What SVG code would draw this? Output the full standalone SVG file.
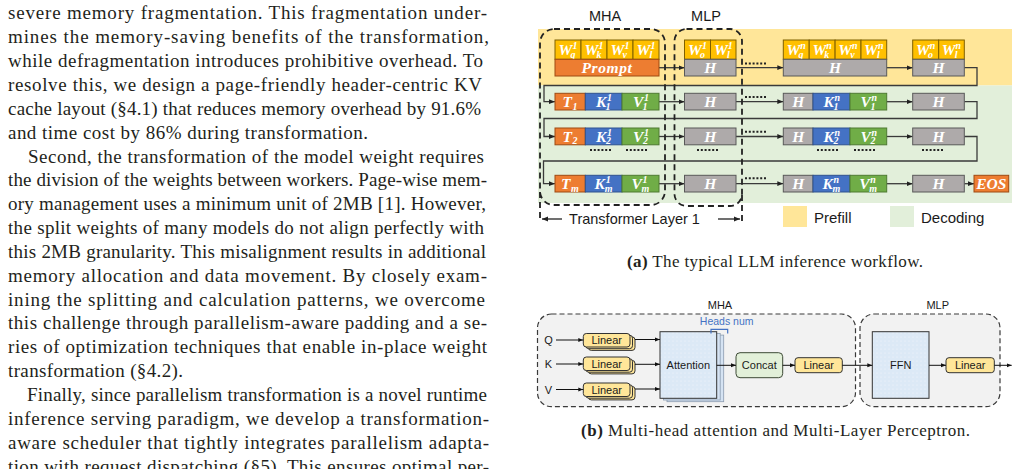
<svg xmlns="http://www.w3.org/2000/svg" width="1022" height="469" viewBox="0 0 1022 469">
<style>
.body{font-family:"Liberation Serif","Times New Roman",serif;font-size:19px;fill:#231f20}
.cap{font-family:"Liberation Serif","Times New Roman",serif;font-size:17px;fill:#231f20}
.sans{font-family:"Liberation Sans",Arial,sans-serif;fill:#1a1a1a}
.s14{font-size:14.5px}
.s11{font-size:11px}
.m{font-family:"Liberation Serif","Times New Roman",serif;font-weight:bold;font-style:italic;fill:#fff;font-size:15.5px}
.sc{font-size:10px}
.W{fill:#FFC000;stroke:#7F6000;stroke-width:1}
.O{fill:#ED7D31;stroke:#9E4A13;stroke-width:1}
.G{fill:#AEAAAA;stroke:#595959;stroke-width:1}
.B{fill:#4472C4;stroke:#2F528F;stroke-width:1}
.V{fill:#70AD47;stroke:#4E7A31;stroke-width:1}
.ln{fill:none;stroke:#3a3a3a;stroke-width:1.3}
.lb{fill:none;stroke:#111;stroke-width:1}
.dash{fill:none;stroke:#222;stroke-width:1.8;stroke-dasharray:6 4}
.dashb{fill:#F2F2F2;stroke:#3a3a3a;stroke-width:1.2;stroke-dasharray:5 3}
.dots{fill:none;stroke:#222;stroke-width:2;stroke-dasharray:2 1.8}
.lin{fill:#FFE699;stroke:#333;stroke-width:1}
.att{fill:url(#dp);stroke:#333;stroke-width:1}
.attb{fill:#D5E3F3;stroke:#8a9bb0;stroke-width:0.8}
</style>
<defs>
<marker id="ah" viewBox="0 0 6 6" refX="6" refY="3" markerWidth="6" markerHeight="6" markerUnits="userSpaceOnUse" orient="auto"><path d="M0,0.6 L6,3 L0,5.4 z" fill="#222"/></marker>
<marker id="as" viewBox="0 0 6 6" refX="6" refY="3" markerWidth="5" markerHeight="5" markerUnits="userSpaceOnUse" orient="auto"><path d="M0,0.6 L6,3 L0,5.4 z" fill="#111"/></marker>
<pattern id="dp" width="4" height="4" patternUnits="userSpaceOnUse"><rect width="4" height="4" fill="#DCE9F6"/><circle cx="1" cy="1" r="0.55" fill="#F4F8FC"/></pattern>
</defs>

<g id="body-text" class="body">
<text x="8" y="19.4" textLength="479" lengthAdjust="spacing">severe memory fragmentation. This fragmentation under-</text>
<text x="8" y="43.2" textLength="481" lengthAdjust="spacing">mines the memory-saving benefits of the transformation,</text>
<text x="8" y="67.1" textLength="475" lengthAdjust="spacing">while defragmentation introduces prohibitive overhead. To</text>
<text x="8" y="90.9" textLength="474" lengthAdjust="spacing">resolve this, we design a page-friendly header-centric KV</text>
<text x="8" y="114.8" textLength="473" lengthAdjust="spacing">cache layout (§4.1) that reduces memory overhead by 91.6%</text>
<text x="8" y="138.6" textLength="360" lengthAdjust="spacing">and time cost by 86% during transformation.</text>
<text x="28" y="162.5" textLength="456" lengthAdjust="spacing">Second, the transformation of the model weight requires</text>
<text x="8" y="186.3" textLength="479" lengthAdjust="spacing">the division of the weights between workers. Page-wise mem-</text>
<text x="8" y="210.2" textLength="478" lengthAdjust="spacing">ory management uses a minimum unit of 2MB [1]. However,</text>
<text x="8" y="234" textLength="476" lengthAdjust="spacing">the split weights of many models do not align perfectly with</text>
<text x="8" y="257.9" textLength="478" lengthAdjust="spacing">this 2MB granularity. This misalignment results in additional</text>
<text x="8" y="281.7" textLength="479" lengthAdjust="spacing">memory allocation and data movement. By closely exam-</text>
<text x="8" y="305.6" textLength="477" lengthAdjust="spacing">ining the splitting and calculation patterns, we overcome</text>
<text x="8" y="329.4" textLength="479" lengthAdjust="spacing">this challenge through parallelism-aware padding and a se-</text>
<text x="8" y="353.3" textLength="479" lengthAdjust="spacing">ries of optimization techniques that enable in-place weight</text>
<text x="8" y="377.1" textLength="175" lengthAdjust="spacing">transformation (§4.2).</text>
<text x="27" y="401" textLength="460" lengthAdjust="spacing">Finally, since parallelism transformation is a novel runtime</text>
<text x="8" y="424.8" textLength="481" lengthAdjust="spacing">inference serving paradigm, we develop a transformation-</text>
<text x="8" y="448.7" textLength="481" lengthAdjust="spacing">aware scheduler that tightly integrates parallelism adapta-</text>
<text x="8" y="472.5" textLength="481" lengthAdjust="spacing">tion with request dispatching (§5). This ensures optimal per-</text>
</g>

<g id="bands">
<rect x="538" y="29" width="474" height="56.5" fill="#FFE699"/>
<rect x="538" y="85.5" width="474" height="117.5" fill="#E2EFDA"/>
</g>

<g id="connectors-top" class="ln">
<path d="M659,67.7 H684.5" marker-end="url(#ah)"/>
<path d="M736,67.7 H783.3" marker-end="url(#ah)"/>
<path d="M886.7,67.7 H912.7" marker-end="url(#ah)"/>
<path d="M964.3,67.7 H977 V85.5 H544 V101.7 H555" marker-end="url(#ah)"/>
<path d="M659,101.7 H684.5" marker-end="url(#ah)"/>
<path d="M736,101.7 H783.3" marker-end="url(#ah)"/>
<path d="M886.7,101.7 H912.7" marker-end="url(#ah)"/>
<path d="M964.3,101.7 H977 V118.5 H544 V136.5 H555" marker-end="url(#ah)"/>
<path d="M659,136.5 H684.5" marker-end="url(#ah)"/>
<path d="M736,136.5 H783.3" marker-end="url(#ah)"/>
<path d="M886.7,136.5 H912.7" marker-end="url(#ah)"/>
<path d="M964.3,136.5 H977 V161 H543.5 V183.7 H555" marker-end="url(#ah)"/>
<path d="M659,183.7 H684.5" marker-end="url(#ah)"/>
<path d="M736,183.7 H783.3" marker-end="url(#ah)"/>
<path d="M886.7,183.7 H912.7" marker-end="url(#ah)"/>
<path d="M964.3,183.7 H974" marker-end="url(#ah)"/>
</g>

<g id="ellipses" class="dots">
<path d="M745,63.5 h21"/>
<path d="M745,97 h21"/>
<path d="M745,131.7 h21"/>
<path d="M745,178.2 h21"/>
<path d="M590,150 h21"/>
<path d="M626,150 h21"/>
<path d="M697,150 h21"/>
<path d="M817,150 h21"/>
<path d="M854,150 h21"/>
<path d="M922,150 h21"/>
</g>

<g id="l1-prefill">
<rect class="W" x="555" y="40" width="26" height="19.3"/>
<rect class="W" x="581" y="40" width="26" height="19.3"/>
<rect class="W" x="607" y="40" width="26" height="19.3"/>
<rect class="W" x="633" y="40" width="26" height="19.3"/>
<text class="m" x="558.6" y="55">W<tspan class="sc" dy="-6">1</tspan><tspan class="sc" dx="-6.8" dy="8.6">q</tspan></text>
<text class="m" x="584.6" y="55">W<tspan class="sc" dy="-6">1</tspan><tspan class="sc" dx="-6.8" dy="8.6">k</tspan></text>
<text class="m" x="610.6" y="55">W<tspan class="sc" dy="-6">1</tspan><tspan class="sc" dx="-6.8" dy="8.6">v</tspan></text>
<text class="m" x="636.6" y="55">W<tspan class="sc" dy="-6">1</tspan><tspan class="sc" dx="-5.8" dy="8.6">l</tspan></text>
<rect class="O" x="555" y="59.3" width="104" height="16.7"/>
<text class="m" x="607" y="73" text-anchor="middle" letter-spacing="0.6">Prompt</text>
</g>

<g id="l1-row1">
<rect class="O" x="555" y="93.3" width="30.3" height="16.7"/>
<rect class="B" x="585.3" y="93.3" width="36.7" height="16.7"/>
<rect class="V" x="622" y="93.3" width="37" height="16.7"/>
<text class="m" x="562.5" y="107">T<tspan class="sc" dx="0.5" dy="2.5">1</tspan></text>
<text class="m" x="596" y="107">K<tspan class="sc" dx="0.7" dy="-5.7">1</tspan><tspan class="sc" dx="-6" dy="8.2">1</tspan></text>
<text class="m" x="632.9" y="107">V<tspan class="sc" dx="0.7" dy="-5.7">1</tspan><tspan class="sc" dx="-6" dy="8.2">1</tspan></text>
</g>
<g id="l1-row2">
<rect class="O" x="555" y="128" width="30.3" height="16.8"/>
<rect class="B" x="585.3" y="128" width="36.7" height="16.8"/>
<rect class="V" x="622" y="128" width="37" height="16.8"/>
<text class="m" x="562.5" y="141.7">T<tspan class="sc" dx="0.5" dy="2.5">2</tspan></text>
<text class="m" x="596" y="141.7">K<tspan class="sc" dx="0.7" dy="-5.6">1</tspan><tspan class="sc" dx="-6" dy="8.1">2</tspan></text>
<text class="m" x="632.9" y="141.7">V<tspan class="sc" dx="0.7" dy="-5.6">1</tspan><tspan class="sc" dx="-6" dy="8.1">2</tspan></text>
</g>
<g id="l1-rowm">
<rect class="O" x="555" y="175.3" width="30.3" height="16.7"/>
<rect class="B" x="585.3" y="175.3" width="36.7" height="16.7"/>
<rect class="V" x="622" y="175.3" width="37" height="16.7"/>
<text class="m" x="561" y="189">T<tspan class="sc" dx="0.5" dy="2.5">m</tspan></text>
<text class="m" x="594.6" y="189">K<tspan class="sc" dx="0.7" dy="-5.7">1</tspan><tspan class="sc" dx="-6" dy="8.2">m</tspan></text>
<text class="m" x="631.5" y="189">V<tspan class="sc" dx="0.7" dy="-5.7">1</tspan><tspan class="sc" dx="-6" dy="8.2">m</tspan></text>
</g>

<g id="l1-mlp">
<rect class="W" x="684.5" y="40" width="26" height="19.3"/>
<rect class="W" x="710.5" y="40" width="25.5" height="19.3"/>
<text class="m" x="688.1" y="55">W<tspan class="sc" dy="-6">1</tspan><tspan class="sc" dx="-6.8" dy="8.6">o</tspan></text>
<text class="m" x="713.9" y="55">W<tspan class="sc" dy="-6">1</tspan><tspan class="sc" dx="-5.8" dy="8.6">l</tspan></text>
<rect class="G" x="684.5" y="59.3" width="51.5" height="16.7"/>
<text class="m" x="710.3" y="73" text-anchor="middle">H</text>
<rect class="G" x="684.5" y="93.3" width="51.5" height="16.7"/>
<text class="m" x="710.3" y="107" text-anchor="middle">H</text>
<rect class="G" x="684.5" y="128" width="51.5" height="16.8"/>
<text class="m" x="710.3" y="141.7" text-anchor="middle">H</text>
<rect class="G" x="684.5" y="175.3" width="51.5" height="16.7"/>
<text class="m" x="710.3" y="189" text-anchor="middle">H</text>
</g>

<g id="ln-prefill">
<rect class="W" x="783.3" y="40" width="25.9" height="19.3"/>
<rect class="W" x="809.2" y="40" width="25.9" height="19.3"/>
<rect class="W" x="835.1" y="40" width="25.9" height="19.3"/>
<rect class="W" x="861" y="40" width="25.7" height="19.3"/>
<text class="m" x="786.5" y="55">W<tspan class="sc" dy="-6">n</tspan><tspan class="sc" dx="-7.4" dy="8.6">q</tspan></text>
<text class="m" x="812.4" y="55">W<tspan class="sc" dy="-6">n</tspan><tspan class="sc" dx="-7.4" dy="8.6">k</tspan></text>
<text class="m" x="838.3" y="55">W<tspan class="sc" dy="-6">n</tspan><tspan class="sc" dx="-7.4" dy="8.6">v</tspan></text>
<text class="m" x="864.1" y="55">W<tspan class="sc" dy="-6">n</tspan><tspan class="sc" dx="-6.4" dy="8.6">l</tspan></text>
<rect class="G" x="783.3" y="59.3" width="103.4" height="16.7"/>
<text class="m" x="835" y="73" text-anchor="middle">H</text>
</g>
<g id="ln-row1">
<rect class="G" x="783.3" y="93.3" width="29.7" height="16.7"/>
<rect class="B" x="813" y="93.3" width="37" height="16.7"/>
<rect class="V" x="850" y="93.3" width="36.7" height="16.7"/>
<text class="m" x="798.2" y="107" text-anchor="middle">H</text>
<text class="m" x="823.5" y="107">K<tspan class="sc" dx="0.7" dy="-5.7">n</tspan><tspan class="sc" dx="-6.6" dy="8.2">1</tspan></text>
<text class="m" x="860.4" y="107">V<tspan class="sc" dx="0.7" dy="-5.7">n</tspan><tspan class="sc" dx="-6.6" dy="8.2">1</tspan></text>
</g>
<g id="ln-row2">
<rect class="G" x="783.3" y="128" width="29.7" height="16.8"/>
<rect class="B" x="813" y="128" width="37" height="16.8"/>
<rect class="V" x="850" y="128" width="36.7" height="16.8"/>
<text class="m" x="798.2" y="141.7" text-anchor="middle">H</text>
<text class="m" x="823.5" y="141.7">K<tspan class="sc" dx="0.7" dy="-5.6">n</tspan><tspan class="sc" dx="-6.6" dy="8.1">2</tspan></text>
<text class="m" x="860.4" y="141.7">V<tspan class="sc" dx="0.7" dy="-5.6">n</tspan><tspan class="sc" dx="-6.6" dy="8.1">2</tspan></text>
</g>
<g id="ln-rowm">
<rect class="G" x="783.3" y="175.3" width="29.7" height="16.7"/>
<rect class="B" x="813" y="175.3" width="37" height="16.7"/>
<rect class="V" x="850" y="175.3" width="36.7" height="16.7"/>
<text class="m" x="798.2" y="189" text-anchor="middle">H</text>
<text class="m" x="822.4" y="189">K<tspan class="sc" dx="0.7" dy="-5.7">n</tspan><tspan class="sc" dx="-6.6" dy="8.2">m</tspan></text>
<text class="m" x="859.3" y="189">V<tspan class="sc" dx="0.7" dy="-5.7">n</tspan><tspan class="sc" dx="-6.6" dy="8.2">m</tspan></text>
</g>

<g id="ln-mlp">
<rect class="W" x="912.7" y="40" width="26" height="19.3"/>
<rect class="W" x="938.7" y="40" width="25.6" height="19.3"/>
<text class="m" x="916" y="55">W<tspan class="sc" dy="-6">n</tspan><tspan class="sc" dx="-7.4" dy="8.6">o</tspan></text>
<text class="m" x="941.8" y="55">W<tspan class="sc" dy="-6">n</tspan><tspan class="sc" dx="-6.4" dy="8.6">l</tspan></text>
<rect class="G" x="912.7" y="59.3" width="51.6" height="16.7"/>
<text class="m" x="938.5" y="73" text-anchor="middle">H</text>
<rect class="G" x="912.7" y="93.3" width="51.6" height="16.7"/>
<text class="m" x="938.5" y="107" text-anchor="middle">H</text>
<rect class="G" x="912.7" y="128" width="51.6" height="16.8"/>
<text class="m" x="938.5" y="141.7" text-anchor="middle">H</text>
<rect class="G" x="912.7" y="175.3" width="51.6" height="16.7"/>
<text class="m" x="938.5" y="189" text-anchor="middle">H</text>
</g>

<g id="eos">
<rect class="O" x="974" y="175.3" width="34.7" height="16.7"/>
<text class="m" x="991.3" y="189" text-anchor="middle">EOS</text>
</g>

<g id="mha-top">
<rect class="dash" x="540" y="29" width="125" height="176" rx="14"/>
<text class="sans s14" x="605" y="21" text-anchor="middle">MHA</text>
</g>
<g id="mlp-top">
<rect class="dash" x="674.5" y="29" width="67.5" height="177" rx="12"/>
<text class="sans s14" x="706" y="21" text-anchor="middle">MLP</text>
</g>
<g id="layer-bracket">
<path class="dash" d="M540,192 V221 M742,195 V221"/>
<path class="ln" d="M562,219 H542" marker-end="url(#ah)" style="stroke:#222"/>
<path class="ln" d="M718,219 H740" marker-end="url(#ah)" style="stroke:#222"/>
<text class="sans s14" x="634.5" y="224" text-anchor="middle">Transformer Layer 1</text>
</g>

<g id="legend">
<rect x="783" y="206" width="24" height="21" fill="#FFE699"/>
<text class="sans" x="814" y="222.7" font-size="15">Prefill</text>
<rect x="890" y="206" width="24" height="21" fill="#E2EFDA"/>
<text class="sans" x="921" y="222.7" font-size="15">Decoding</text>
</g>

<g id="caption-a" class="cap">
<text x="627" y="267" textLength="296" lengthAdjust="spacing"><tspan font-weight="bold">(a)</tspan> The typical LLM inference workflow.</text>
</g>

<g id="mha-bottom">
<rect class="dashb" x="537.5" y="314" width="318" height="92.7" rx="14"/>
<text class="sans s11" x="720" y="309" text-anchor="middle">MHA</text>
</g>
<g id="mlp-bottom">
<rect class="dashb" x="860" y="314" width="140" height="92.7" rx="14"/>
<text class="sans s11" x="937.7" y="309" text-anchor="middle">MLP</text>
</g>

<g id="qkv" class="sans s11">
<text x="548.5" y="343.5" text-anchor="middle">Q</text>
<text x="548.5" y="368" text-anchor="middle">K</text>
<text x="548.5" y="393.5" text-anchor="middle">V</text>
</g>

<g id="linear-q">
<rect class="lin" x="588.3" y="336.9" width="46.7" height="13.5" rx="3"/>
<rect class="lin" x="585.8" y="335.2" width="46.7" height="13.5" rx="3"/>
<rect class="lin" x="583.3" y="333.5" width="46.7" height="13.5" rx="3"/>
<text class="sans s11" x="606.7" y="344.2" text-anchor="middle">Linear</text>
</g>
<g id="linear-k">
<rect class="lin" x="588.3" y="360.4" width="46.7" height="13.5" rx="3"/>
<rect class="lin" x="585.8" y="358.7" width="46.7" height="13.5" rx="3"/>
<rect class="lin" x="583.3" y="357" width="46.7" height="13.5" rx="3"/>
<text class="sans s11" x="606.7" y="367.7" text-anchor="middle">Linear</text>
</g>
<g id="linear-v">
<rect class="lin" x="588.3" y="386.4" width="46.7" height="13.5" rx="3"/>
<rect class="lin" x="585.8" y="384.7" width="46.7" height="13.5" rx="3"/>
<rect class="lin" x="583.3" y="383" width="46.7" height="13.5" rx="3"/>
<text class="sans s11" x="606.7" y="393.7" text-anchor="middle">Linear</text>
</g>

<g id="attention">
<rect class="attb" x="667" y="335.1" width="56.7" height="66.6"/>
<rect class="attb" x="663.5" y="333.4" width="56.7" height="66.6"/>
<rect class="att" x="660" y="331.7" width="56.7" height="66.6"/>
<text class="sans s11" x="688.3" y="369" text-anchor="middle">Attention</text>
<text class="sans" x="726.7" y="325" text-anchor="middle" font-size="10.5" style="fill:#4472C4">Heads num</text>
<path d="M711,333.5 V329.3 H727.7 V333.5" fill="none" stroke="#4472C4" stroke-width="1.2"/>
</g>

<g id="concat">
<rect x="736" y="352.7" width="46.7" height="25" rx="4" fill="#E2F0D9" stroke="#3d4a36" stroke-width="1"/>
<text class="sans s11" x="759.3" y="369" text-anchor="middle">Concat</text>
</g>
<g id="linear-o">
<rect class="lin" x="795" y="357.7" width="47.3" height="15" rx="3"/>
<text class="sans s11" x="818.7" y="369" text-anchor="middle">Linear</text>
</g>
<g id="ffn">
<rect class="att" x="872.3" y="331.7" width="56.7" height="66.6"/>
<text class="sans s11" x="900.7" y="369" text-anchor="middle">FFN</text>
</g>
<g id="linear-mlp">
<rect class="lin" x="946" y="357.7" width="48.3" height="15" rx="3"/>
<text class="sans s11" x="970.2" y="369" text-anchor="middle">Linear</text>
</g>

<g id="connectors-bottom" class="lb">
<path d="M556,340 H583.3" marker-end="url(#as)"/>
<path d="M556,364 H583.3" marker-end="url(#as)"/>
<path d="M556,389.5 H583.3" marker-end="url(#as)"/>
<path d="M635,339.5 H660" marker-end="url(#as)"/>
<path d="M635,364.3 H660" marker-end="url(#as)"/>
<path d="M635,389 H660" marker-end="url(#as)"/>
<path d="M716.7,365.3 H736" marker-end="url(#as)"/>
<path d="M782.7,365.3 H795" marker-end="url(#as)"/>
<path d="M842.3,365.3 H872.3" marker-end="url(#as)"/>
<path d="M929,365.3 H946" marker-end="url(#as)"/>
<path d="M994.3,365.3 H1011.7" marker-end="url(#as)"/>
</g>

<g id="caption-b" class="cap">
<text x="581" y="436" textLength="389" lengthAdjust="spacing"><tspan font-weight="bold">(b)</tspan> Multi-head attention and Multi-Layer Perceptron.</text>
</g>
</svg>
